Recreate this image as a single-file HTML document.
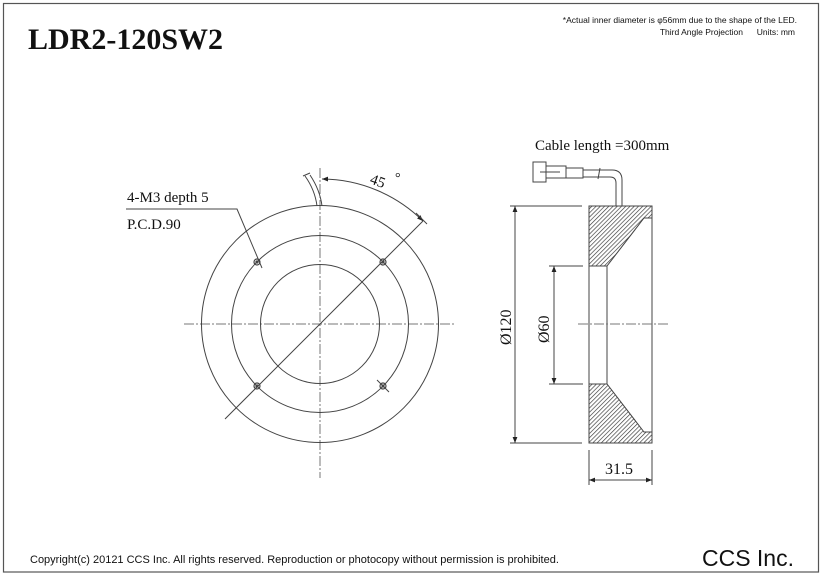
<!DOCTYPE html>
<html><head><meta charset="utf-8"><style>
html,body{margin:0;padding:0;background:#fff;}
svg{display:block;}
.s{font-family:"Liberation Serif",serif;fill:#111;}
.a{font-family:"Liberation Sans",sans-serif;fill:#111;}
</style></head><body>
<svg width="831" height="578" viewBox="0 0 831 578" xmlns="http://www.w3.org/2000/svg">
<defs>
<pattern id="h" patternUnits="userSpaceOnUse" width="3" height="3" patternTransform="rotate(45)">
<rect width="3" height="3" fill="#fff"/><line x1="0" y1="0" x2="0" y2="3" stroke="#333" stroke-width="1.3"/>
</pattern>
<marker id="ar" viewBox="0 0 10 10" refX="10" refY="5" markerWidth="8" markerHeight="6" orient="auto-start-reverse"><path d="M0,1 L10,5 L0,9z" fill="#222"/></marker>
</defs>
<rect x="3.5" y="3.5" width="815" height="568.5" fill="none" stroke="#555" stroke-width="1.2"/>
<text x="28" y="49" class="s" font-size="30" font-weight="bold">LDR2-120SW2</text>
<text x="797" y="23" class="a" font-size="8.5" text-anchor="end">*Actual inner diameter is φ56mm due to the shape of the LED.</text>
<text x="743" y="35" class="a" font-size="8.5" text-anchor="end">Third Angle Projection</text>
<text x="795" y="35" class="a" font-size="8.5" text-anchor="end">Units: mm</text>
<text x="30" y="563" class="a" font-size="11">Copyright(c) 20121 CCS Inc. All rights reserved.  Reproduction or photocopy without permission is prohibited.</text>
<text x="794" y="566" class="a" font-size="23" text-anchor="end">CCS Inc.</text>

<g fill="none" stroke="#444" stroke-width="1">
<line x1="184" y1="324" x2="456" y2="324" stroke-dasharray="10,2,2,2" stroke="#777"/>
<line x1="320" y1="168" x2="320" y2="478" stroke-dasharray="10,2,2,2" stroke="#777"/>
<circle cx="320" cy="324" r="118.5"/>
<circle cx="320" cy="324" r="88.5"/>
<circle cx="320" cy="324" r="59.5"/>
<line x1="225" y1="419" x2="423" y2="221"/>
<g stroke-width="1.2">
<circle cx="257" cy="262" r="3"/><circle cx="257" cy="262" r="1"/>
<circle cx="383" cy="262" r="3"/><circle cx="383" cy="262" r="1"/>
<circle cx="257" cy="386" r="3"/><circle cx="257" cy="386" r="1"/>
<circle cx="383" cy="386" r="3"/><circle cx="383" cy="386" r="1"/>
</g>
<line x1="377" y1="380" x2="389" y2="392"/>
<polyline points="126,209 237,209 262,268"/>
<path d="M305,176 Q315,190 317,206 M310,175 Q320,190 322,206 M303,176 L310,173"/>
<path d="M322,179 A145,145 0 0 1 423,221" marker-start="url(#ar)" marker-end="url(#ar)"/>
<line x1="416" y1="213" x2="427" y2="224"/>
</g>
<text x="127" y="202" class="s" font-size="15">4-M3 depth 5</text>
<text x="127" y="229" class="s" font-size="15">P.C.D.90</text>
<text x="370" y="186" class="s" font-size="15" transform="rotate(20 378 182)">45</text>
<text x="395" y="182" class="s" font-size="14">°</text>

<text x="535" y="150" class="s" font-size="15">Cable length =300mm</text>
<g fill="none" stroke="#444" stroke-width="1">
<rect x="533" y="162" width="13" height="20"/>
<rect x="546" y="166" width="20" height="12"/>
<line x1="540" y1="172" x2="560" y2="172"/>
<rect x="566" y="168" width="17" height="10"/>
<path d="M583,170 L612,170 Q622,170 622,180 L622,206 M583,177 L610,177 Q616,177 616,183 L616,206"/>
<line x1="600" y1="168" x2="598" y2="179"/>
<polygon points="589,206 652,206 652,218 644,218 607,266 589,266" fill="url(#h)"/>
<polygon points="589,384 607,384 644,432 652,432 652,443 589,443" fill="url(#h)"/>
<line x1="589" y1="206" x2="589" y2="443"/>
<line x1="607" y1="266" x2="607" y2="384"/>
<line x1="652" y1="206" x2="652" y2="443"/>
<line x1="578" y1="324" x2="668" y2="324" stroke-dasharray="10,2,2,2" stroke="#777"/>
<line x1="510" y1="206" x2="582" y2="206"/>
<line x1="510" y1="443" x2="582" y2="443"/>
<line x1="515" y1="206" x2="515" y2="443" marker-start="url(#ar)" marker-end="url(#ar)"/>
<line x1="549" y1="266" x2="583" y2="266"/>
<line x1="549" y1="384" x2="583" y2="384"/>
<line x1="554" y1="266" x2="554" y2="384" marker-start="url(#ar)" marker-end="url(#ar)"/>
<line x1="589" y1="450" x2="589" y2="485"/>
<line x1="652" y1="450" x2="652" y2="485"/>
<line x1="589" y1="480" x2="652" y2="480" marker-start="url(#ar)" marker-end="url(#ar)"/>
</g>
<text x="0" y="0" class="s" font-size="16" transform="translate(511,345) rotate(-90)">Ø120</text>
<text x="0" y="0" class="s" font-size="16" transform="translate(549,343) rotate(-90)">Ø60</text>
<text x="605" y="474" class="s" font-size="16">31.5</text>
</svg>
</body></html>
